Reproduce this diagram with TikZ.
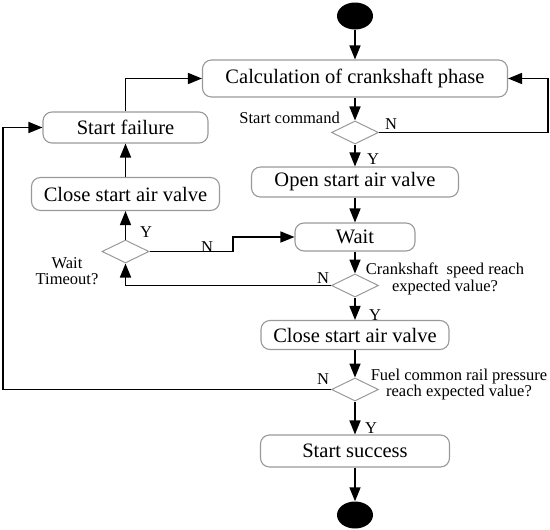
\documentclass[tikz,border=0pt]{standalone}
\usepackage{fontspec}
\setmainfont{Liberation Serif}
\usetikzlibrary{shapes.geometric,arrows.meta}
\tikzset{
  box/.style={draw=black!40, line width=1.1pt, rounded corners=9pt, inner sep=0pt, font=\fontsize{20.5}{23}\selectfont},
  dec/.style={draw=black!40, line width=1pt, shape=diamond, inner sep=0pt, minimum width=47pt, minimum height=23pt},
  term/.style={fill=black, ellipse, inner sep=0pt, minimum width=36pt, minimum height=27pt},
  conn/.style={line width=1.6pt, -{Triangle[length=14pt,width=11pt]}},
  lab/.style={font=\fontsize{16.5}{16.5}\selectfont, inner sep=0pt, align=center},
}
\begin{document}
\begin{tikzpicture}[x=1pt,y=-1pt]
\useasboundingbox (0,0) rectangle (550,530);
% nodes
\node[term] (start) at (355,16) {};
\node[box, minimum width=305pt, minimum height=37pt] (calc) at (355,78.5) {Calculation of crankshaft phase};
\node[dec] (d1) at (355,132.5) {};
\node[box, minimum width=207pt, minimum height=30pt] (open) at (355,182) {Open start air valve};
\node[box, minimum width=120pt, minimum height=28pt] (wait) at (355,237) {Wait};
\node[dec] (d3) at (355,285.5) {};
\node[box, minimum width=188pt, minimum height=29pt] (closec) at (355,335) {Close start air valve};
\node[dec] (d4) at (355,389.5) {};
\node[box, minimum width=189pt, minimum height=32pt] (succ) at (355,451) {Start success};
\node[term] (end) at (355,515) {};
\node[box, minimum width=165pt, minimum height=31pt] (fail) at (125.5,127.5) {Start failure};
\node[box, minimum width=188pt, minimum height=33pt] (closel) at (125.5,194) {Close start air valve};
\node[dec] (d2) at (125.5,251.5) {};
% coordinates
\coordinate (rr) at (548,0);
\coordinate (el) at (233,0);
\coordinate (ll) at (3,0);
% connectors
\draw[conn] (start) -- (calc);
\draw[conn] (calc) -- (d1);
\draw[conn] (d1) -- (open);
\draw[conn] (d1.east) -- (d1.east -| rr) |- (calc.east);
\draw[conn] (open) -- (wait);
\draw[conn] (wait) -- (d3);
\draw[conn] (d3) -- (closec);
\draw[conn] (closec) -- (d4);
\draw[conn] (d4) -- (succ);
\draw[conn] (succ) -- (end);
\draw[conn] (d3.west) -| (d2.south);
\draw[conn] (d2) -- (closel);
\draw[conn] (closel) -- (fail);
\draw[conn] (fail.north) |- (calc.west);
\draw[conn] (d2.east) -- (d2.east -| el) |- (wait.west);
\draw[conn] (d4.west) -- (d4.west -| ll) |- (fail.west);
% labels
\node[lab, anchor=east] (lsc) at (340,118) {Start command};
\node[lab] (n1) at (391,124) {N};
\node[lab] (y1) at (373,159) {Y};
\node[lab] (y2) at (146,232) {Y};
\node[lab] (n2) at (207,247) {N};
\node[lab] (wt) at (67,271) {Wait\\Timeout?};
\node[lab] (n3) at (323,278) {N};
\node[lab] (cs) at (445,279) {Crankshaft\ \ speed reach\\expected value?};
\node[lab] (y3) at (375,315) {Y};
\node[lab] (n4) at (323,379) {N};
\node[lab] (fc) at (459,384.5) {Fuel common rail pressure\\reach expected value?};
\node[lab] (y4) at (371,428) {Y};
\end{tikzpicture}
\end{document}
